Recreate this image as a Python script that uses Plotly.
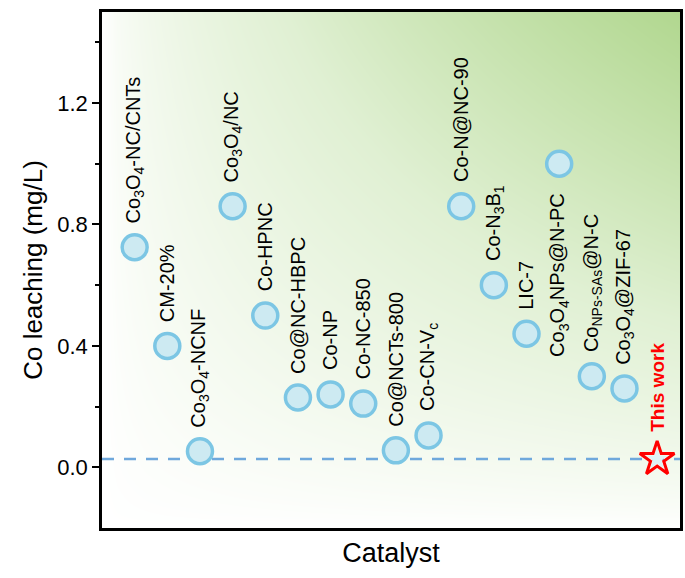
import numpy as np
import plotly.graph_objects as go

labels = ["Co<sub>3</sub>O<sub>4</sub>-NC/CNTs", "CM-20%", "Co<sub>3</sub>O<sub>4</sub>-NCNF",
          "Co<sub>3</sub>O<sub>4</sub>/NC", "Co-HPNC", "Co@NC-HBPC", "Co-NP", "Co-NC-850",
          "Co@NCTs-800", "Co-CN-V<sub>c</sub>", "Co-N@NC-90", "Co-N<sub>3</sub>B<sub>1</sub>",
          "LIC-7", "Co<sub>3</sub>O<sub>4</sub>NPs@N-PC", "Co<sub>NPs-SAs</sub>@N-C",
          "Co<sub>3</sub>O<sub>4</sub>@ZIF-67"]
values = [0.725, 0.40, 0.053, 0.86, 0.50, 0.23, 0.24, 0.21, 0.056, 0.105,
          0.86, 0.60, 0.44, 1.00, 0.30, 0.26]
label_below = [False] * 13 + [True] + [False] * 2
this_work_label = "This work"
this_work_value = 0.027
positions = list(range(1, len(labels) + 1))
this_work_pos = len(labels) + 1

xr = [0, 17.7]
yr = [-0.2, 1.5]

fig = go.Figure()

# background gradient
gx = np.linspace(xr[0], xr[1], 40)
gy = np.linspace(yr[0], yr[1], 40)
XN, YN = np.meshgrid((gx - xr[0]) / (xr[1] - xr[0]), (gy - yr[0]) / (yr[1] - yr[0]))
Z = (XN ** 0.6) * (YN ** 0.75)
fig.add_trace(go.Heatmap(x=gx, y=gy, z=Z, zsmooth="best", showscale=False, hoverinfo="skip",
                         colorscale=[[0, "#ffffff"], [0.5, "#e0f0d3"], [1, "#b1d78f"]],
                         zmin=0, zmax=1))

fig.add_trace(go.Scatter(x=list(xr), y=[this_work_value, this_work_value], mode="lines",
                         line=dict(color="#6fa8dc", width=2.5, dash="12px,10px"),
                         showlegend=False, hoverinfo="skip"))

fig.add_trace(go.Scatter(x=positions, y=values, mode="markers",
                         marker=dict(size=25, color="#cdeaf2",
                                     line=dict(color="#7cc6e4", width=3.5)),
                         showlegend=False))
fig.add_trace(go.Scatter(x=[this_work_pos], y=[this_work_value], mode="markers",
                         marker=dict(size=26, symbol="star-open", color="#ff0000",
                                     line=dict(color="#ff0000", width=3)),
                         showlegend=False))
fig.add_trace(go.Scatter(x=[this_work_pos], y=[this_work_value], mode="markers",
                         marker=dict(size=16, symbol="star", color="#dff1f5",
                                     line=dict(width=0)),
                         showlegend=False))

for p, v, t, below in zip(positions, values, labels, label_below):
    fig.add_annotation(x=p, y=v, text=t, textangle=-90, showarrow=False,
                       xanchor="center", yanchor="top" if below else "bottom",
                       yshift=-27 if below else 22,
                       font=dict(family="Liberation Sans, Arial", size=20, color="black"))
fig.add_annotation(x=this_work_pos, y=this_work_value, text="<b>" + this_work_label + "</b>",
                   textangle=-90, showarrow=False, xanchor="center", yanchor="bottom",
                   yshift=25, font=dict(family="Liberation Sans, Arial", size=19, color="#ff0000"))

fig.update_layout(
    width=685, height=578,
    margin=dict(l=102, r=2, t=12, b=50),
    paper_bgcolor="white", plot_bgcolor="white",
    font=dict(family="Liberation Sans, Arial", color="black"),
    xaxis=dict(range=xr, showticklabels=False, ticks="", showgrid=False, zeroline=False,
               showline=True, linecolor="black", linewidth=2.5, mirror=True,
               title=dict(text="Catalyst", font=dict(size=27), standoff=14)),
    yaxis=dict(range=yr, tickvals=[0.0, 0.4, 0.8, 1.2], ticktext=["0.0", "0.4", "0.8", "1.2"],
               ticks="outside", ticklen=7, tickwidth=2, tickcolor="black",
               minor=dict(tickvals=[0.2, 0.6, 1.0, 1.4], ticks="outside", ticklen=4,
                          tickwidth=2, tickcolor="black"),
               tickfont=dict(size=22), showgrid=False, zeroline=False,
               showline=True, linecolor="black", linewidth=2.5, mirror=True,
               title=dict(text="Co leaching (mg/L)", font=dict(size=26), standoff=8)),
)

fig.write_html("out.html", config={"displayModeBar": False},
               post_script="document.body.style.margin='0px';")
